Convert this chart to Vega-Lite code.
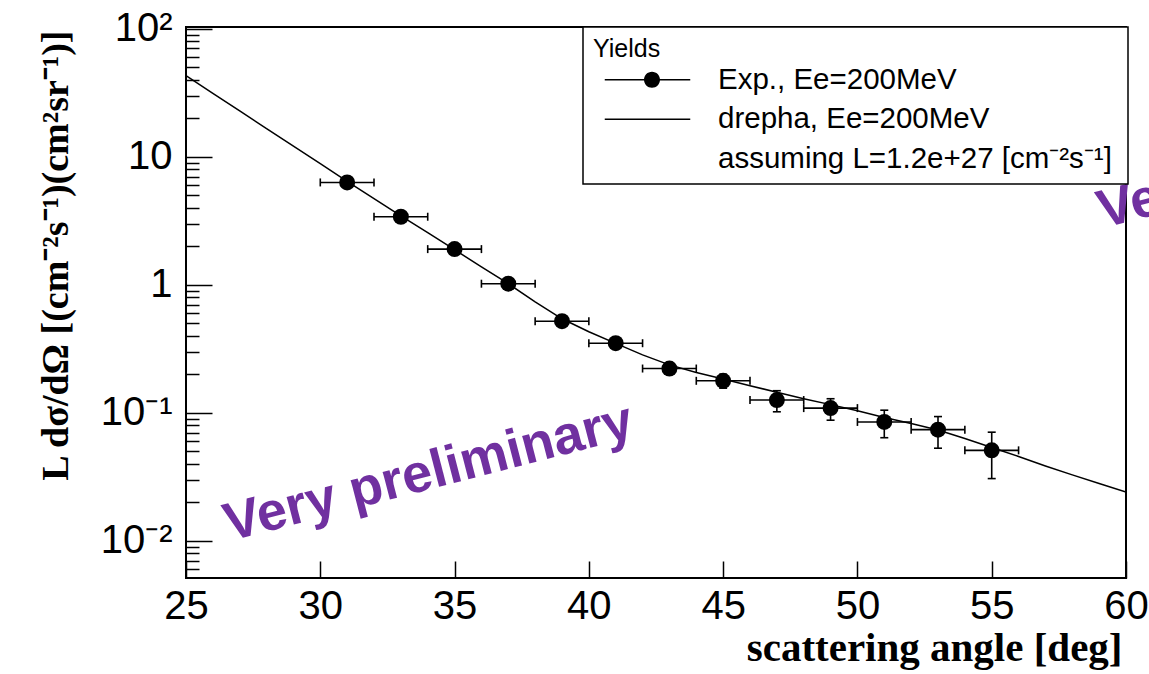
{
  "$schema": "https://vega.github.io/schema/vega-lite/v6.json",
  "width": 940,
  "height": 551,
  "autosize": {"type": "none"},
  "padding": {"left": 186, "top": 27, "right": 23, "bottom": 96},
  "background": "white",
  "config": {
    "view": {"stroke": "black", "strokeWidth": 2},
    "axis": {
      "grid": false,
      "domain": false,
      "tickColor": "black",
      "tickWidth": 1.5,
      "labelColor": "black",
      "titleColor": "black",
      "labelFont": "Liberation Sans",
      "labelFontSize": 40,
      "titleFont": "Liberation Serif",
      "titleFontWeight": "bold",
      "titleFontSize": 38
    },
    "legend": {
      "titleFont": "Liberation Sans",
      "titleFontSize": 25,
      "titleFontWeight": "normal",
      "titleColor": "black",
      "labelFont": "Liberation Sans",
      "labelFontSize": 29.5,
      "labelColor": "black",
      "labelLimit": 700,
      "padding": 10,
      "strokeColor": "black",
      "strokeWidth": 1.5,
      "fillColor": "white",
      "symbolSize": 324,
      "symbolStrokeColor": "black",
      "symbolFillColor": "black",
      "symbolStrokeWidth": 1.5,
      "symbolOpacity": 1,
      "rowPadding": 8.5,
      "titlePadding": 3,
      "symbolOffset": 39.75,
      "labelOffset": 55.75
    }
  },
  "resolve": {"axis": {"y": "independent"}},
  "datasets": {
    "theory": [
      {"angle": 25, "yield": 42.9},
      {"angle": 26, "yield": 31.3},
      {"angle": 27, "yield": 22.8},
      {"angle": 28, "yield": 16.6},
      {"angle": 29, "yield": 12.1},
      {"angle": 30, "yield": 8.82},
      {"angle": 31, "yield": 6.43},
      {"angle": 32, "yield": 4.71},
      {"angle": 33, "yield": 3.46},
      {"angle": 34, "yield": 2.55},
      {"angle": 35, "yield": 1.88},
      {"angle": 36, "yield": 1.38},
      {"angle": 37, "yield": 1.02},
      {"angle": 38, "yield": 0.737},
      {"angle": 39, "yield": 0.543},
      {"angle": 40, "yield": 0.43},
      {"angle": 41, "yield": 0.349},
      {"angle": 42, "yield": 0.284},
      {"angle": 43, "yield": 0.237},
      {"angle": 44, "yield": 0.207},
      {"angle": 45, "yield": 0.184},
      {"angle": 46, "yield": 0.163},
      {"angle": 47, "yield": 0.145},
      {"angle": 48, "yield": 0.129},
      {"angle": 49, "yield": 0.116},
      {"angle": 50, "yield": 0.104},
      {"angle": 51, "yield": 0.0922},
      {"angle": 52, "yield": 0.0828},
      {"angle": 53, "yield": 0.0736},
      {"angle": 54, "yield": 0.0632},
      {"angle": 55, "yield": 0.0537},
      {"angle": 56, "yield": 0.0457},
      {"angle": 57, "yield": 0.0385},
      {"angle": 58, "yield": 0.0328},
      {"angle": 59, "yield": 0.0281},
      {"angle": 60, "yield": 0.0241}
    ],
    "exp": [
      {"series": "Exp., Ee=200MeV", "angle": 31, "yield": 6.3, "xlo": 30, "xhi": 32, "ylo": 6.15, "yhi": 6.45},
      {"series": "Exp., Ee=200MeV", "angle": 33, "yield": 3.4, "xlo": 32, "xhi": 34, "ylo": 3.32, "yhi": 3.48},
      {"series": "Exp., Ee=200MeV", "angle": 35, "yield": 1.9, "xlo": 34, "xhi": 36, "ylo": 1.85, "yhi": 1.95},
      {"series": "Exp., Ee=200MeV", "angle": 37, "yield": 1.02, "xlo": 36, "xhi": 38, "ylo": 0.99, "yhi": 1.05},
      {"series": "Exp., Ee=200MeV", "angle": 39, "yield": 0.52, "xlo": 38, "xhi": 40, "ylo": 0.5, "yhi": 0.54},
      {"series": "Exp., Ee=200MeV", "angle": 41, "yield": 0.35, "xlo": 40, "xhi": 42, "ylo": 0.33, "yhi": 0.37},
      {"series": "Exp., Ee=200MeV", "angle": 43, "yield": 0.222, "xlo": 42, "xhi": 44, "ylo": 0.202, "yhi": 0.242},
      {"series": "Exp., Ee=200MeV", "angle": 45, "yield": 0.178, "xlo": 44, "xhi": 46, "ylo": 0.156, "yhi": 0.2},
      {"series": "Exp., Ee=200MeV", "angle": 47, "yield": 0.126, "xlo": 46, "xhi": 48, "ylo": 0.102, "yhi": 0.149},
      {"series": "Exp., Ee=200MeV", "angle": 49, "yield": 0.109, "xlo": 48, "xhi": 50, "ylo": 0.0877, "yhi": 0.129},
      {"series": "Exp., Ee=200MeV", "angle": 51, "yield": 0.085, "xlo": 50, "xhi": 52, "ylo": 0.064, "yhi": 0.105},
      {"series": "Exp., Ee=200MeV", "angle": 53, "yield": 0.074, "xlo": 52, "xhi": 54, "ylo": 0.053, "yhi": 0.0936},
      {"series": "Exp., Ee=200MeV", "angle": 55, "yield": 0.051, "xlo": 54, "xhi": 56, "ylo": 0.0307, "yhi": 0.0707}
    ]
  },
  "layer": [
    {
      "data": {"name": "theory"},
      "mark": {"type": "line", "color": "black", "strokeWidth": 1.5, "clip": true},
      "encoding": {
        "x": {
          "field": "angle",
          "type": "quantitative",
          "scale": {"domain": [25, 60], "nice": false, "zero": false},
          "axis": {
            "values": [25, 30, 35, 40, 45, 50, 55, 60],
            "offset": -17,
            "tickSize": 17,
            "labelPadding": 8,
            "labelFlush": false,
            "labelOverlap": false,
            "title": "scattering angle [deg]",
            "titleFontSize": 41,
            "titleAnchor": "end",
            "titleAlign": "right",
            "titleBaseline": "alphabetic",
            "titleX": 936,
            "titleY": 99
          }
        },
        "y": {
          "field": "yield",
          "type": "quantitative",
          "scale": {"type": "log", "domain": [0.00514, 103], "nice": false},
          "axis": {
            "orient": "left",
            "values": [0.01, 0.1, 1, 10, 100],
            "labelExpr": "datum.value == 100 ? '10²' : datum.value == 10 ? '10' : datum.value == 1 ? '1' : datum.value == 0.1 ? '10⁻¹' : '10⁻²'",
            "offset": -26,
            "tickSize": 26,
            "labelPadding": 14,
            "labelOverlap": false,
            "labelFlush": false,
            "title": "L dσ/dΩ [(cm⁻²s⁻¹)(cm²sr⁻¹)]",
            "titleAngle": 270,
            "titleAlign": "right",
            "titleBaseline": "alphabetic",
            "titleX": -145,
            "titleY": 3
          }
        }
      }
    },
    {
      "data": {"name": "exp"},
      "mark": {"type": "rule", "color": "black", "strokeWidth": 1.6},
      "encoding": {
        "x": {"field": "xlo", "type": "quantitative"},
        "x2": {"field": "xhi"},
        "y": {
          "field": "yield",
          "type": "quantitative",
          "axis": {
            "orient": "left",
            "values": [0.006, 0.007, 0.008, 0.009, 0.02, 0.03, 0.04, 0.05, 0.06, 0.07, 0.08, 0.09, 0.2, 0.3, 0.4, 0.5, 0.6, 0.7, 0.8, 0.9, 2, 3, 4, 5, 6, 7, 8, 9, 20, 30, 40, 50, 60, 70, 80, 90],
            "offset": -13,
            "tickSize": 13,
            "labels": false,
            "title": null
          }
        }
      }
    },
    {
      "data": {"name": "exp"},
      "mark": {"type": "rule", "color": "black", "strokeWidth": 1.6},
      "encoding": {
        "x": {"field": "angle", "type": "quantitative"},
        "y": {"field": "ylo", "type": "quantitative", "axis": null},
        "y2": {"field": "yhi"}
      }
    },
    {
      "data": {"name": "exp"},
      "mark": {"type": "tick", "orient": "vertical", "size": 8, "thickness": 1.6, "color": "black", "opacity": 1},
      "encoding": {
        "x": {"field": "xlo", "type": "quantitative"},
        "y": {"field": "yield", "type": "quantitative", "axis": null}
      }
    },
    {
      "data": {"name": "exp"},
      "mark": {"type": "tick", "orient": "vertical", "size": 8, "thickness": 1.6, "color": "black", "opacity": 1},
      "encoding": {
        "x": {"field": "xhi", "type": "quantitative"},
        "y": {"field": "yield", "type": "quantitative", "axis": null}
      }
    },
    {
      "data": {"name": "exp"},
      "mark": {"type": "tick", "orient": "horizontal", "size": 8, "thickness": 1.6, "color": "black", "opacity": 1},
      "encoding": {
        "x": {"field": "angle", "type": "quantitative"},
        "y": {"field": "ylo", "type": "quantitative", "axis": null}
      }
    },
    {
      "data": {"name": "exp"},
      "mark": {"type": "tick", "orient": "horizontal", "size": 8, "thickness": 1.6, "color": "black", "opacity": 1},
      "encoding": {
        "x": {"field": "angle", "type": "quantitative"},
        "y": {"field": "yhi", "type": "quantitative", "axis": null}
      }
    },
    {
      "data": {"name": "exp"},
      "mark": {"type": "point", "filled": true, "size": 256, "color": "black", "opacity": 1},
      "encoding": {
        "x": {"field": "angle", "type": "quantitative"},
        "y": {"field": "yield", "type": "quantitative", "axis": null}
      }
    },
    {
      "data": {"name": "exp"},
      "mark": {"type": "point", "filled": false, "size": 0, "color": "black", "fill": "black", "stroke": "black", "strokeWidth": 1.5, "opacity": 1},
      "encoding": {
        "x": {"field": "angle", "type": "quantitative"},
        "y": {"field": "yield", "type": "quantitative", "axis": null},
        "shape": {
          "field": "series",
          "type": "nominal",
          "scale": {
            "domain": ["Exp., Ee=200MeV", "drepha, Ee=200MeV", "assuming L=1.2e+27 [cm⁻²s⁻¹]"],
            "range": [
              "M-4.75,-0.08L4.75,-0.08L4.75,0.08L-4.75,0.08ZM1.39,0A0.89,0.89,0,1,1,-0.39,0A0.89,0.89,0,1,1,1.39,0Z",
              "M-4.75,-0.08L4.75,-0.08L4.75,0.08L-4.75,0.08Z",
              "M51.9,0L51.9,0"
            ]
          },
          "legend": {
            "title": "Yields",
            "orient": "none",
            "legendX": 397,
            "legendY": 0
          }
        }
      }
    },
    {
      "data": {"values": [{}]},
      "mark": {"type": "text", "text": "Very preliminary", "angle": 345.5, "font": "Liberation Sans", "fontWeight": "bold", "fontSize": 54, "color": "#7030a0", "align": "left", "baseline": "alphabetic"},
      "encoding": {
        "x": {"datum": 26.61, "type": "quantitative"},
        "y": {"datum": 0.00996, "type": "quantitative", "axis": null}
      }
    },
    {
      "data": {"values": [{}]},
      "mark": {"type": "text", "text": "Very preliminary", "angle": 345.5, "font": "Liberation Sans", "fontWeight": "bold", "fontSize": 54, "color": "#7030a0", "align": "left", "baseline": "alphabetic"},
      "encoding": {
        "x": {"datum": 59.13, "type": "quantitative"},
        "y": {"datum": 2.76, "type": "quantitative", "axis": null}
      }
    }
  ]
}
